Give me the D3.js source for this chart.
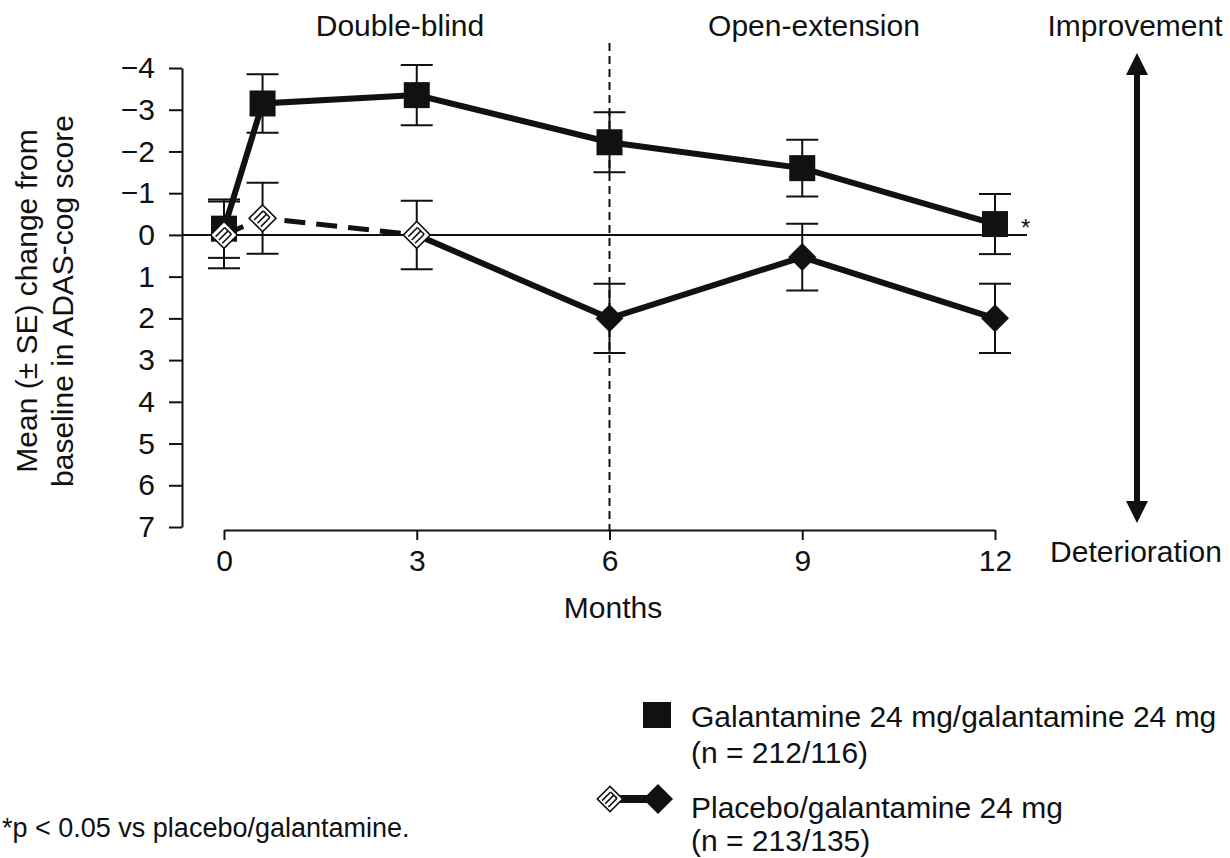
<!DOCTYPE html>
<html>
<head>
<meta charset="utf-8">
<script src="https://cdn.jsdelivr.net/npm/d3@7"></script>
<style>
  html, body { margin: 0; padding: 0; background: #fff; }
  svg { display: block; font-family: "Liberation Sans", Arial, sans-serif; }
  .axis text { font-size: 30px; fill: #111; }
  .axis path, .axis line { stroke: #111; stroke-width: 2; }
</style>
</head>
<body>
<svg id="chart" width="1230" height="858"></svg>
<script>
/* ADAS-cog change from baseline: galantamine vs placebo -> galantamine */

// ---- data ----
const months = [0, 0.6, 3, 6, 9, 12];
const galMean = [-0.15, -3.15, -3.35, -2.22, -1.6, -0.26];
const galSE   = [0.7, 0.7, 0.72, 0.72, 0.68, 0.72];
const plaMean = [0, -0.4, 0, 2.0, 0.53, 2.0];
const plaSE   = [0.8, 0.85, 0.82, 0.83, 0.8, 0.83];
const plaOpen = [true, true, true, false, false, false]; // double-blind placebo = open marker
const xTicks = [0, 3, 6, 9, 12];
const yTicks = [-4, -3, -2, -1, 0, 1, 2, 3, 4, 5, 6, 7];
const phaseLabels = ["Double-blind", "Open-extension"];
const legendLabels = [
  ["Galantamine 24 mg/galantamine 24 mg", "(n = 212/116)"],
  ["Placebo/galantamine 24 mg", "(n = 213/135)"]
];
const footnote = "*p < 0.05 vs placebo/galantamine.";

const svg = d3.select("#chart");
const INK = "#111";

const x = d3.scaleLinear().domain([0, 12]).range([224, 995]);
const y = d3.scaleLinear().domain([-4, 7]).range([68, 527]);

const gal = months.map((m, i) => ({ m, v: galMean[i], se: galSE[i] }));
const pla = months.map((m, i) => ({ m, v: plaMean[i], se: plaSE[i], open: plaOpen[i] }));

// ---- axes ----
svg.append("g").attr("class", "axis")
  .attr("transform", "translate(182,0)")
  .call(d3.axisLeft(y).tickValues(yTicks).tickSize(13).tickSizeOuter(0).tickPadding(14)
    .tickFormat(d => d < 0 ? "\u2212" + Math.abs(d) : d));

svg.append("g").attr("class", "axis")
  .attr("transform", "translate(0,530)")
  .call(d3.axisBottom(x).tickValues(xTicks).tickSize(10).tickSizeOuter(0).tickPadding(10));

// zero reference line
svg.append("line")
  .attr("x1", 182).attr("x2", 1027).attr("y1", y(0)).attr("y2", y(0))
  .attr("stroke", INK).attr("stroke-width", 2);

// phase divider at 6 months
svg.append("line")
  .attr("x1", x(6)).attr("x2", x(6)).attr("y1", 43).attr("y2", 530)
  .attr("stroke", INK).attr("stroke-width", 2).attr("stroke-dasharray", "8 5");

// ---- labels ----
const txt = (s, px, py, anchor, size) => svg.append("text")
  .attr("x", px).attr("y", py).attr("text-anchor", anchor || "middle")
  .attr("font-size", size || 30).attr("fill", INK).text(s);

txt(phaseLabels[0], 400, 36);
txt(phaseLabels[1], 814, 36);
txt("Improvement", 1135, 36);
txt("Deterioration", 1136, 562);
txt("Months", 613, 618);

const yl = svg.append("text").attr("transform", "translate(0,301) rotate(-90)")
  .attr("text-anchor", "middle").attr("font-size", 30).attr("fill", INK);
yl.append("tspan").attr("x", 0).attr("y", 37).text("Mean (\u00b1 SE) change from");
yl.append("tspan").attr("x", 0).attr("y", 73).text("baseline in ADAS-cog score");

// ---- improvement / deterioration arrow ----
const ax = 1137;
svg.append("line").attr("x1", ax).attr("x2", ax).attr("y1", 70).attr("y2", 505)
  .attr("stroke", INK).attr("stroke-width", 6);
svg.append("path").attr("d", `M${ax},53 L${ax - 11},75 L${ax + 11},75 Z`).attr("fill", INK);
svg.append("path").attr("d", `M${ax},523 L${ax - 11},501 L${ax + 11},501 Z`).attr("fill", INK);

// ---- series ----
const line = d3.line().x(d => x(d.m)).y(d => y(d.v));

function errorBars(data) {
  const g = svg.append("g").attr("stroke", INK).attr("stroke-width", 2);
  data.forEach(d => {
    const cx = x(d.m);
    g.append("line").attr("x1", cx).attr("x2", cx).attr("y1", y(d.v - d.se)).attr("y2", y(d.v + d.se));
    [d.v - d.se, d.v + d.se].forEach(v => g.append("line")
      .attr("x1", cx - 16).attr("x2", cx + 16).attr("y1", y(v)).attr("y2", y(v)));
  });
}

function openDiamond(g, cx, cy, s) {
  const d = g.append("g").attr("transform", `translate(${cx},${cy}) rotate(45)`);
  d.append("rect").attr("x", -s).attr("y", -s).attr("width", 2 * s).attr("height", 2 * s)
    .attr("fill", "#fff").attr("stroke", INK).attr("stroke-width", 1.6);
  [-s * 0.5, 0, s * 0.5].forEach(o => d.append("line")
    .attr("x1", o).attr("x2", o).attr("y1", -s * 0.6).attr("y2", s * 0.75)
    .attr("stroke", INK).attr("stroke-width", 1.6));
  d.append("line").attr("x1", -s * 0.5).attr("x2", s * 0.5).attr("y1", -s * 0.6).attr("y2", -s * 0.6)
    .attr("stroke", INK).attr("stroke-width", 1.6);
}
function fullDiamond(g, cx, cy, r) {
  g.append("path").attr("d", `M${cx},${cy - r} L${cx + r},${cy} L${cx},${cy + r} L${cx - r},${cy} Z`)
    .attr("fill", INK);
}

errorBars(gal);
errorBars(pla);

// galantamine
svg.append("path").datum(gal).attr("d", line)
  .attr("fill", "none").attr("stroke", INK).attr("stroke-width", 6);
svg.append("g").selectAll("rect").data(gal).join("rect")
  .attr("x", d => x(d.m) - 13).attr("y", d => y(d.v) - 13)
  .attr("width", 26).attr("height", 26).attr("fill", INK);

// placebo: dashed during double-blind, solid in extension
svg.append("path").datum(pla.slice(0, 3)).attr("d", line)
  .attr("fill", "none").attr("stroke", INK).attr("stroke-width", 5).attr("stroke-dasharray", "21 11");
svg.append("path").datum(pla.slice(2)).attr("d", line)
  .attr("fill", "none").attr("stroke", INK).attr("stroke-width", 6);
const pg = svg.append("g");
pla.forEach(d => d.open ? openDiamond(pg, x(d.m), y(d.v), 9.5) : fullDiamond(pg, x(d.m), y(d.v), 14));

// significance mark
const last = gal[gal.length - 1];
svg.append("text").attr("x", x(last.m) + 26).attr("y", y(last.v) + 12)
  .attr("font-size", 24).attr("fill", INK).text("*");

// ---- legend ----
const lg = svg.append("g");
lg.append("rect").attr("x", 643).attr("y", 702).attr("width", 28).attr("height", 26).attr("fill", INK);
lg.append("line").attr("x1", 615).attr("x2", 650).attr("y1", 799).attr("y2", 799)
  .attr("stroke", INK).attr("stroke-width", 8);
openDiamond(lg, 610, 799, 9);
fullDiamond(lg, 658, 799, 15);
[[727, 763], [818, 851]].forEach((ys, i) => {
  txt(legendLabels[i][0], 691, ys[0], "start");
  txt(legendLabels[i][1], 691, ys[1], "start");
});

// footnote, kept fully inside the frame
txt(footnote, 2, 837, "start", 27);
</script>
</body>
</html>
